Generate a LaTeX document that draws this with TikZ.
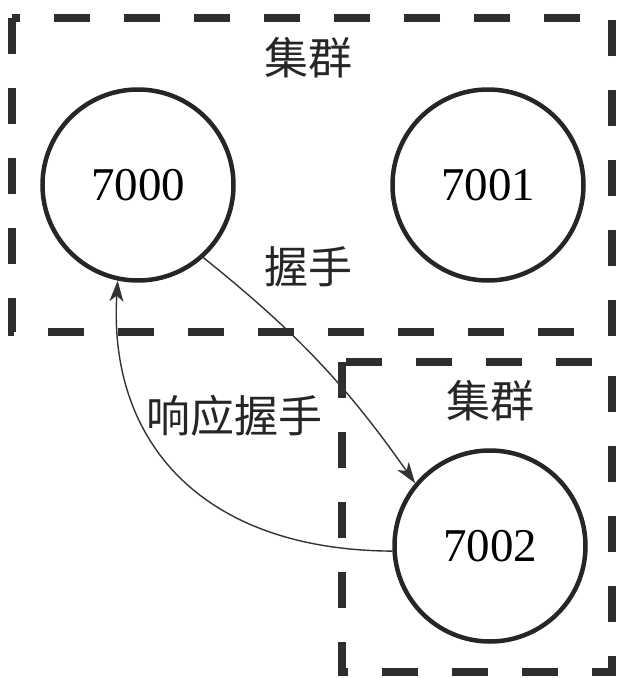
\documentclass[tikz,border=0pt]{standalone}
\usepackage{fontspec}
\setmainfont{Liberation Serif}
\newfontfamily\cjk{Noto Sans CJK SC}
\usetikzlibrary{arrows.meta}
\begin{document}
\begin{tikzpicture}[x=1pt,y=-1pt,
  cluster/.style={line width=8pt, draw=black!82, dash pattern=on 36pt off 34pt},
  srv/.style={circle, draw=black!85, line width=4.5pt, minimum size=191pt, inner sep=0pt, font=\fontsize{47}{47}\selectfont},
  lbl/.style={font=\cjk\fontsize{44}{44}\selectfont, text=black!85, inner sep=0pt},
  msg/.style={line width=1.4pt, draw=black!80, -{Stealth[length=21pt,width=14pt,inset=6pt]}}
]
\useasboundingbox (0,0) rectangle (621,678);
\draw[cluster, dash phase=0pt] (12,18) rectangle (612,332);
\draw[cluster, dash phase=0pt] (342,362) rectangle (612,672);
\node[srv] (c7000) at (138,185) {7000};
\node[srv] (c7001) at (488,185) {7001};
\node[srv] (c7002) at (490,546) {7002};
\node[lbl] (t1) at (308,58) {集群};
\node[lbl] (t2) at (490,401) {集群};
\node[lbl] (hs) at (308,267) {握手};
\node[lbl] (rhs) at (234,416) {响应握手};
\draw[msg] (c7000.-48) to[bend left=8] (c7002.140);
\draw[msg] (c7002.183) .. controls (200,550) and (108,440) .. (c7000.-102);
\end{tikzpicture}
\end{document}
